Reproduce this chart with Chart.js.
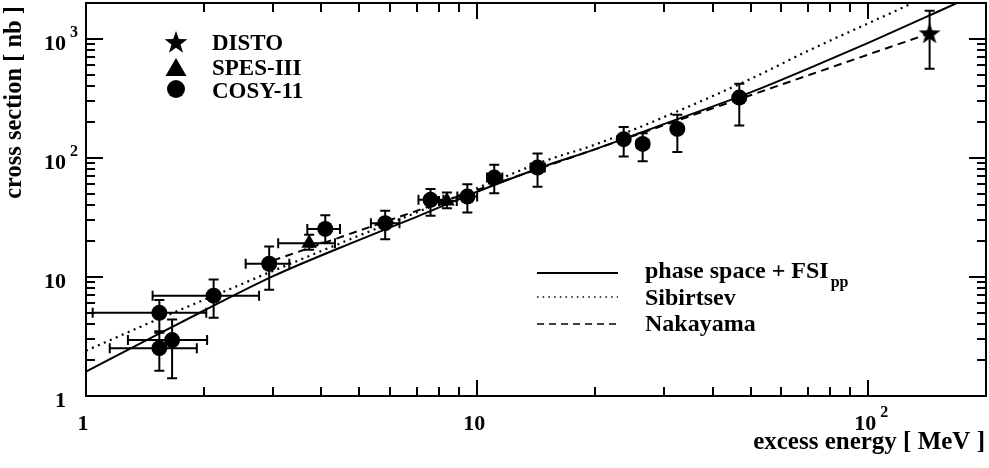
<!DOCTYPE html>
<html>
<head>
<meta charset="utf-8">
<script src="https://cdn.jsdelivr.net/npm/chart.js@4.4.0/dist/chart.umd.min.js"></script>
<style>
  html, body { margin: 0; padding: 0; background: #fff; }
  canvas { display: block; }
</style>
</head>
<body>
<canvas id="chart" width="989" height="468"></canvas>
<script>
// COSY-11 measurements: excess energy [MeV], cross section [nb], error bounds
const cosyX     = [1.54, 1.54, 1.66, 2.12, 2.94, 4.09, 5.82, 7.60, 9.44, 11.06, 14.27, 23.7, 26.5, 32.5, 46.8];
const cosyY     = [5.0, 2.52, 2.95, 6.96, 12.9, 25.3, 28.3, 44.4, 47.3, 68.3, 82.9, 143.6, 131, 175, 321];
const cosyXLow  = [1.04, 1.15, 1.28, 1.48, 2.56, 3.68, 5.35, 7.08, 8.9, 10.6, 13.7, 23.7, 25.6, 32.5, 46.8];
const cosyXHigh = [2.03, 1.92, 2.04, 2.77, 3.31, 4.46, 6.33, 8.2, 10.0, 11.6, 14.9, 23.7, 27.4, 32.5, 46.8];
const cosyYLow  = [3.5, 1.63, 1.41, 4.55, 7.8, 19.4, 20.7, 32.7, 34.7, 50.5, 57.1, 102.6, 93.8, 112, 187];
const cosyYHigh = [6.4, 3.4, 4.4, 9.5, 18.0, 33, 35.9, 54.9, 60.1, 87.4, 108.7, 182, 161, 230, 419];

// SPES-III
const spesX     = [3.72, 8.37];
const spesY     = [19.2, 43.5];
const spesXLow  = [3.10, 7.99];
const spesXHigh = [4.33, 8.87];
const spesYLow  = [16.9, 37.8];
const spesYHigh = [22.6, 51.3];

// DISTO
const distoX     = [143.5];
const distoY     = [1117];
const distoYLow  = [560];
const distoYHigh = [1719];

// model curves
const fsiX = [1, 1.5, 2, 3, 5, 7, 10, 15, 20, 30, 50, 70, 100, 150, 200];
const fsiY = [1.6, 3.2, 5.2, 10.1, 20.5, 32, 52, 86, 118, 192, 355, 560, 925, 1680, 2580];
const sibX = [1, 1.5, 2, 3, 5, 7, 10, 15, 20, 30, 50, 70, 100, 150];
const sibY = [2.4, 4.3, 6.4, 11.2, 22.3, 34.8, 55.7, 95, 129, 220, 460, 790, 1350, 2480];
const nakX = [3, 5, 7, 10, 15, 20, 30, 50, 70, 100, 140];
const nakY = [13.7, 24.5, 35.9, 53.9, 85, 118, 188, 336, 492, 738, 1081];

// axes
const xMin = 1, xMax = 200;
const yMin = 1, yMax = 2000;
const xTickValues = [1, 10, 100];
const xTickLabels = ['1', '10', '10^2'];
const yTickValues = [1, 10, 100, 1000];
const yTickLabels = ['1', '10', '10^2', '10^3'];
const xTitle = 'excess energy [ MeV ]';
const yTitle = 'cross section [ nb ]';
const markerNames = ['DISTO', 'SPES-III', 'COSY-11'];
const curveNames = ['phase space + FSI', 'Sibirtsev', 'Nakayama'];

const FONT = '"Liberation Serif", "Times New Roman", serif';

function pts(xs, ys) {
  return xs.map((x, i) => ({ x: x, y: ys[i] }));
}

function starPath(ctx, cx, cy, rOut, rIn) {
  ctx.beginPath();
  for (let i = 0; i < 10; i++) {
    const r = i % 2 === 0 ? rOut : rIn;
    const a = -Math.PI / 2 + i * Math.PI / 5;
    const px = cx + r * Math.cos(a), py = cy + r * Math.sin(a);
    if (i === 0) ctx.moveTo(px, py); else ctx.lineTo(px, py);
  }
  ctx.closePath();
}

// filled five-point star used as point style
const starImg = document.createElement('canvas');
starImg.width = 24; starImg.height = 24;
(function () {
  const c = starImg.getContext('2d');
  c.fillStyle = '#000';
  starPath(c, 12, 13, 11.5, 4.6);
  c.fill();
})();

function errorBars(ctx, xs_, ys_, xs, ys, xlo, xhi, ylo, yhi) {
  const cap = 5;
  for (let i = 0; i < xs.length; i++) {
    const px = xs_.getPixelForValue(xs[i]);
    const py = ys_.getPixelForValue(ys[i]);
    if (ylo && ylo[i] !== yhi[i]) {
      const a = ys_.getPixelForValue(ylo[i]), b = ys_.getPixelForValue(yhi[i]);
      ctx.beginPath();
      ctx.moveTo(px, a); ctx.lineTo(px, b);
      ctx.moveTo(px - cap, a); ctx.lineTo(px + cap, a);
      ctx.moveTo(px - cap, b); ctx.lineTo(px + cap, b);
      ctx.stroke();
    }
    if (xlo && xlo[i] !== xhi[i]) {
      const a = xs_.getPixelForValue(xlo[i]), b = xs_.getPixelForValue(xhi[i]);
      ctx.beginPath();
      ctx.moveTo(a, py); ctx.lineTo(b, py);
      ctx.moveTo(a, py - cap); ctx.lineTo(a, py + cap);
      ctx.moveTo(b, py - cap); ctx.lineTo(b, py + cap);
      ctx.stroke();
    }
  }
}

function logTicks(min, max) {
  const out = [];
  for (let d = Math.floor(Math.log10(min)); d <= Math.ceil(Math.log10(max)); d++) {
    for (let m = 1; m <= 9; m++) {
      const v = m * Math.pow(10, d);
      if (v > min * 1.0001 && v < max * 0.9999) out.push({ v: v, major: m === 1 });
    }
  }
  return out;
}

// "10^2" -> base + raised exponent
function powLabel(ctx, label, x, y, align) {
  const parts = label.split('^');
  ctx.font = 'bold 22px ' + FONT;
  const w = ctx.measureText(parts[0]).width;
  let left = align === 'right' ? x - w : x - w / 2;
  ctx.textAlign = 'left';
  ctx.fillText(parts[0], left, y);
  if (parts[1]) {
    ctx.font = 'bold 16px ' + FONT;
    ctx.fillText(parts[1], left + w + 4, y - 13);
  }
}

const rootPlugin = {
  id: 'rootStyle',
  beforeDatasetsDraw(chart) {
    const ctx = chart.ctx, xs = chart.scales.x, ys = chart.scales.y;
    ctx.save();
    ctx.strokeStyle = '#000';
    ctx.lineWidth = 2;
    errorBars(ctx, xs, ys, cosyX, cosyY, cosyXLow, cosyXHigh, cosyYLow, cosyYHigh);
    errorBars(ctx, xs, ys, spesX, spesY, spesXLow, spesXHigh, spesYLow, spesYHigh);
    errorBars(ctx, xs, ys, distoX, distoY, null, null, distoYLow, distoYHigh);
    ctx.restore();
  },
  afterDraw(chart) {
    const ctx = chart.ctx, xs = chart.scales.x, ys = chart.scales.y;
    const a = chart.chartArea;
    ctx.save();
    ctx.strokeStyle = '#000';
    ctx.fillStyle = '#000';
    ctx.lineWidth = 2;
    ctx.strokeRect(a.left, a.top, a.right - a.left, a.bottom - a.top);

    // ticks on all four sides, pointing inward
    ctx.beginPath();
    logTicks(xMin, xMax).forEach(t => {
      const p = Math.round(xs.getPixelForValue(t.v));
      const len = t.major ? 16 : 9;
      ctx.moveTo(p, a.bottom); ctx.lineTo(p, a.bottom - len);
      ctx.moveTo(p, a.top); ctx.lineTo(p, a.top + len);
    });
    logTicks(yMin, yMax).forEach(t => {
      const p = Math.round(ys.getPixelForValue(t.v));
      const len = t.major ? 17 : 9;
      ctx.moveTo(a.left, p); ctx.lineTo(a.left + len, p);
      ctx.moveTo(a.right, p); ctx.lineTo(a.right - len, p);
    });
    ctx.stroke();

    // tick labels
    ctx.textBaseline = 'alphabetic';
    xTickValues.forEach((v, i) => {
      powLabel(ctx, xTickLabels[i], xs.getPixelForValue(v) - 3, 430, 'center');
    });
    yTickValues.forEach((v, i) => {
      powLabel(ctx, yTickLabels[i], 66, ys.getPixelForValue(v) + 11, 'right');
    });

    // axis titles
    ctx.font = 'bold 25px ' + FONT;
    ctx.textAlign = 'right';
    ctx.fillText(xTitle, 985, 449);
    ctx.save();
    ctx.translate(21, 6);
    ctx.rotate(-Math.PI / 2);
    ctx.font = 'bold 24.5px ' + FONT;
    ctx.fillText(yTitle, 0, 0);
    ctx.restore();

    // marker legend (top left)
    starPath(ctx, 176, 43, 12, 4.8);
    ctx.fill();
    ctx.beginPath();
    ctx.moveTo(176, 58); ctx.lineTo(186.5, 76); ctx.lineTo(165.5, 76); ctx.closePath();
    ctx.fill();
    ctx.beginPath();
    ctx.arc(176, 89, 9, 0, Math.PI * 2);
    ctx.fill();
    ctx.font = 'bold 23px ' + FONT;
    ctx.textAlign = 'left';
    ctx.fillText(markerNames[0], 212, 50);
    ctx.fillText(markerNames[1], 212, 75);
    ctx.fillText(markerNames[2], 212, 98);

    // curve legend (bottom right)
    const lx0 = 537, lx1 = 618;
    ctx.lineWidth = 2;
    ctx.beginPath(); ctx.moveTo(lx0, 273); ctx.lineTo(lx1, 273); ctx.stroke();
    ctx.lineWidth = 1.5;
    ctx.setLineDash([1.5, 4.2]);
    ctx.beginPath(); ctx.moveTo(lx0, 297); ctx.lineTo(lx1, 297); ctx.stroke();
    ctx.setLineDash([7, 5]);
    ctx.beginPath(); ctx.moveTo(lx0, 324); ctx.lineTo(lx1, 324); ctx.stroke();
    ctx.setLineDash([]);
    ctx.font = 'bold 24px ' + FONT;
    ctx.fillText(curveNames[0], 645, 278);
    const w0 = ctx.measureText(curveNames[0]).width;
    ctx.font = 'bold 16px ' + FONT;
    ctx.fillText('pp', 645 + w0 + 2, 287);
    ctx.font = 'bold 24px ' + FONT;
    ctx.fillText(curveNames[1], 645, 305);
    ctx.fillText(curveNames[2], 645, 331);
    ctx.restore();
  }
};

new Chart(document.getElementById('chart'), {
  type: 'scatter',
  data: {
    datasets: [
      { label: 'DISTO', data: pts(distoX, distoY), pointStyle: starImg, pointRadius: 12 },
      { label: 'SPES-III', data: pts(spesX, spesY), pointStyle: 'triangle', pointRadius: 9,
        backgroundColor: '#000', borderColor: '#000', borderWidth: 0 },
      { label: 'COSY-11', data: pts(cosyX, cosyY), pointStyle: 'circle', pointRadius: 8,
        backgroundColor: '#000', borderColor: '#000', borderWidth: 0 },
      { label: 'phase space + FSIpp', data: pts(fsiX, fsiY), showLine: true, pointRadius: 0,
        borderColor: '#000', borderWidth: 2, cubicInterpolationMode: 'monotone' },
      { label: 'Sibirtsev', data: pts(sibX, sibY), showLine: true, pointRadius: 0,
        borderColor: '#000', borderWidth: 2.2, borderDash: [2, 4.5], cubicInterpolationMode: 'monotone' },
      { label: 'Nakayama', data: pts(nakX, nakY), showLine: true, pointRadius: 0,
        borderColor: '#000', borderWidth: 2, borderDash: [8, 5.5], cubicInterpolationMode: 'monotone' }
    ]
  },
  options: {
    responsive: false,
    animation: false,
    layout: { autoPadding: false, padding: { left: 86, right: 3, top: 3, bottom: 72 } },
    scales: {
      x: { type: 'logarithmic', min: xMin, max: xMax, display: false },
      y: { type: 'logarithmic', min: yMin, max: yMax, display: false }
    },
    plugins: { legend: { display: false }, tooltip: { enabled: false } }
  },
  plugins: [rootPlugin]
});
</script>
</body>
</html>
